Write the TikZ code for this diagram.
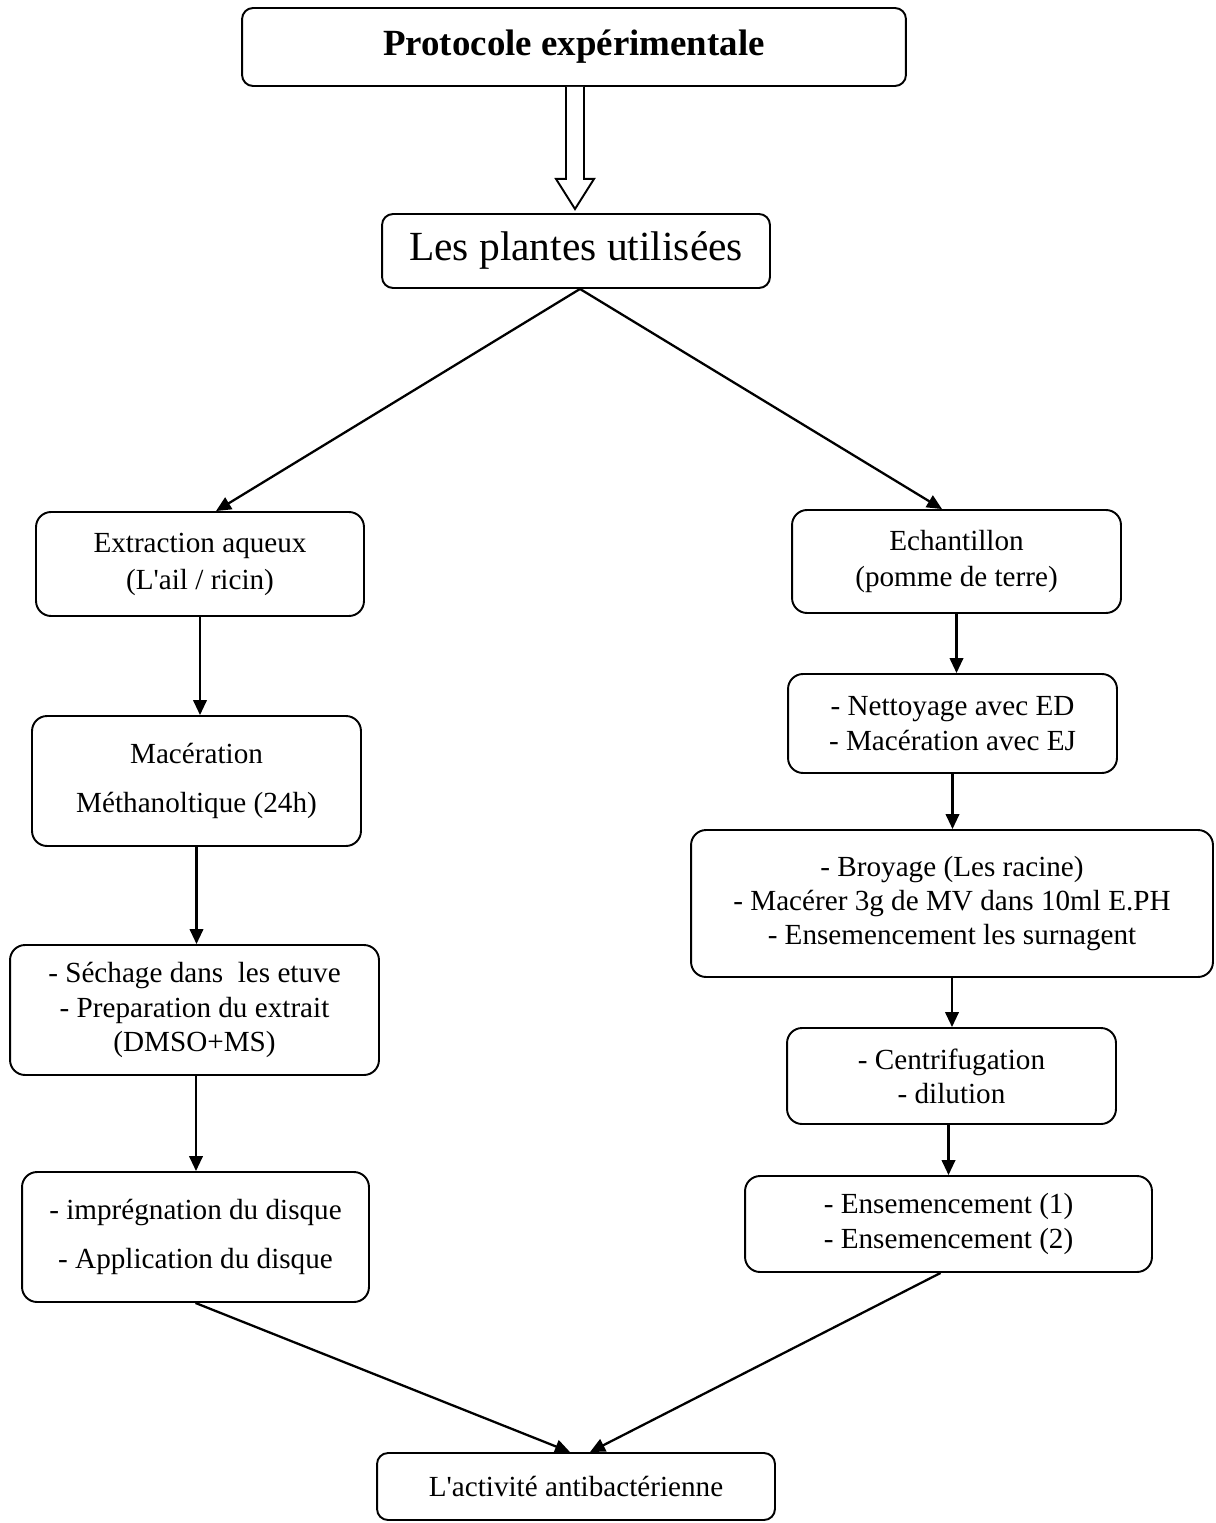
\documentclass[tikz,border=0pt]{standalone}
\usepackage{fontspec}
\setmainfont{Liberation Serif}[Ligatures=TeXOff]
\usetikzlibrary{calc,arrows.meta}
\begin{document}
\begin{tikzpicture}[x=0.02cm,y=-0.02cm,
  box/.style={draw, line width=1.1pt, rounded corners=0.3cm, align=center, inner sep=0pt,
    font=\fontsize{16.6}{19.5}\selectfont},
  arr/.style={line width=1.3pt, -{Triangle[length=0.3cm,width=0.27cm]}},
  hollow/.style={draw, line width=1.1pt, fill=white, line join=miter}]
\useasboundingbox (0,0) rectangle (1215,1523);

% top
\node[box, rounded corners=0.22cm, minimum width=13.28cm, minimum height=1.56cm,
  font=\fontsize{21}{25}\selectfont\bfseries] (title) at (574,47) {Protocole expérimentale};
\node[box, rounded corners=0.22cm, minimum width=7.76cm, minimum height=1.48cm,
  font=\fontsize{23.6}{28}\selectfont] (plantes) at (576,251) {Les plantes utilisées};

% left column
\node[box, minimum width=6.56cm, minimum height=2.08cm, font=\fontsize{16.6}{21}\selectfont] (extr) at (200,564)
  {Extraction aqueux\\(L'ail / ricin)};
\node[box, minimum width=6.58cm, minimum height=2.6cm] (mac) at (196.5,781)
  {Macération\\[8.5pt]Méthanoltique (24h)};
\node[box, minimum width=7.38cm, minimum height=2.6cm] (sech) at (194.5,1010)
  {- Séchage dans\ \ les etuve\\- Preparation du extrait\\(DMSO+MS)};
\node[box, minimum width=6.94cm, minimum height=2.6cm] (impr) at (195.5,1237)
  {- imprégnation du disque\\[8.5pt]- Application du disque};

% right column
\node[box, minimum width=6.58cm, minimum height=2.06cm, font=\fontsize{16.6}{20.5}\selectfont] (echa) at (956.5,561.5)
  {Echantillon\\(pomme de terre)};
\node[box, minimum width=6.58cm, minimum height=1.98cm] (nett) at (952.5,723.5)
  {- Nettoyage avec ED\\- Macération avec EJ};
\node[box, minimum width=10.44cm, minimum height=2.94cm] (broy) at (952,903.5)
  {- Broyage (Les racine)\\- Macérer 3g de MV dans 10ml E.PH\\- Ensemencement les surnagent};
\node[box, minimum width=6.58cm, minimum height=1.92cm] (cent) at (951.5,1076)
  {- Centrifugation\\- dilution};
\node[box, minimum width=8.14cm, minimum height=1.92cm] (ense) at (948.5,1224)
  {- Ensemencement (1)\\- Ensemencement (2)};

% bottom
\node[box, rounded corners=0.22cm, minimum width=7.96cm, minimum height=1.34cm] (final) at (576,1486.5)
  {L'activité antibactérienne};

% hollow arrow
\coordinate (ha) at ($(title.south)+(1,0)$);
\coordinate (htip) at ($(plantes.north -| ha)+(0,-4)$);
\draw[hollow] ($(ha)+(-9,0)$) -- ($(ha)+(-9,92)$) -- ($(ha)+(-19,92)$) -- (htip)
  -- ($(ha)+(19,92)$) -- ($(ha)+(9,92)$) -- ($(ha)+(9,0)$);

% diagonal connectors
\coordinate (pl) at ($(plantes.south)+(4,0)$);
\draw[arr] (pl) -- ($(extr.north)+(16,0)$);
\draw[arr] (pl) -- ($(echa.north)+(-14.5,0)$);
\draw[arr] (impr.south) -- ($(final.north)+(-6,0)$);
\draw[arr] ($(ense.south)+(-8,0)$) -- ($(final.north)+(14,0)$);

% vertical connectors
\draw[arr] (extr.south) -- (extr.south |- mac.north);
\draw[arr] (mac.south) -- (mac.south |- sech.north);
\draw[arr] ($(sech.south)+(1.5,0)$) -- ($(sech.south |- impr.north)+(1.5,0)$);
\draw[arr] (echa.south) -- (echa.south |- nett.north);
\draw[arr] (nett.south) -- (nett.south |- broy.north);
\draw[arr] (broy.south) -- (broy.south |- cent.north);
\draw[arr] ($(cent.south)+(-3,0)$) -- ($(cent.south |- ense.north)+(-3,0)$);
\end{tikzpicture}
\end{document}
